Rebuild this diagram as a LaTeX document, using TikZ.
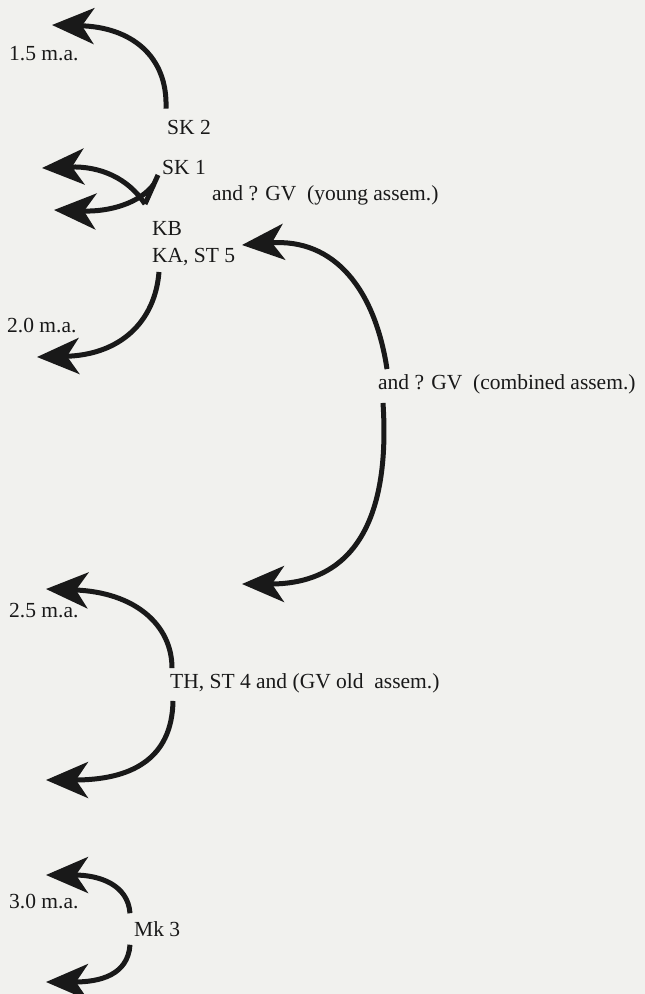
\documentclass[tikz,border=0pt]{standalone}
\usepackage{fontspec}
\setmainfont{Liberation Serif}
\usetikzlibrary{arrows.meta}

\definecolor{paper}{RGB}{241,241,238}
\definecolor{ink}{RGB}{25,25,25}

\tikzset{
  lbl/.style={font=\fontsize{21.5}{24}\selectfont, text=ink, inner sep=0pt},
  arr/.style={draw=ink, line width=5pt,
    -{Stealth[length=42pt,width=36pt,inset=12pt]}}
}

\begin{document}
\begin{tikzpicture}[x=1pt,y=-1pt]
\fill[paper] (0,0) rectangle (645,994);
\useasboundingbox (0,0) rectangle (645,994);

% labels
\node[lbl, anchor=west] (ma15) at (9,54) {1.5 m.a.};
\node[lbl] (sk2) at (189,127) {SK 2};
\node[lbl] (sk1) at (184,167) {SK 1};
\node[lbl, anchor=west] (young) at (212,195) {and ? GV\ \ (young assem.)};
\node[lbl, anchor=west] (kb) at (152,228) {KB};
\node[lbl, anchor=west] (kast) at (152,257) {KA, ST 5};
\node[lbl, anchor=west] (ma20) at (7,325) {2.0 m.a.};
\node[lbl, anchor=west] (comb) at (378,384) {and ? GV\ \ (combined assem.)};
\node[lbl, anchor=west] (ma25) at (9,611) {2.5 m.a.};
\node[lbl, anchor=west] (th) at (170,683) {TH, ST 4 and (GV old\ \ assem.)};
\node[lbl, anchor=west] (ma30) at (9,901) {3.0 m.a.};
\node[lbl, anchor=west] (mk) at (134,929) {Mk 3};

% arrow ends
\coordinate (t15) at (52,25);
\coordinate (xa) at (158,175);
\coordinate (xb) at (145,204);
\coordinate (xm) at (154,184);
\coordinate (tup) at (42,168);
\coordinate (tlo) at (54,210);
\coordinate (t20) at (37,357);
\coordinate (tcu) at (242,245);
\coordinate (tcl) at (242,584);
\coordinate (t25) at (46,589);
\coordinate (tth) at (46,780);
\coordinate (t30) at (46,875);
\coordinate (t35) at (46,982);

\draw[arr] (sk2.north west) ++(-1,-11) .. controls (168,55) and (130,27) .. (t15);

\draw[draw=ink, line width=5pt] (xa) -- (xb);
\draw[arr] (xb) .. controls (128,178) and (100,166) .. (tup);
\draw[arr] (xm) .. controls (140,203) and (110,212) .. (tlo);

\draw[arr] (kast.south west) ++(7,6) .. controls (155,322) and (120,355) .. (t20);

\draw[arr] (comb.north west) ++(9,-5) .. controls (375,290) and (335,238) .. (tcu);
\draw[arr] (comb.south west) ++(5,9) .. controls (390,510) and (360,584) .. (tcl);

\draw[arr] (th.north west) ++(2,-5) .. controls (172,625) and (135,592) .. (t25);
\draw[arr] (th.south west) ++(3,8) .. controls (172,760) and (130,780) .. (tth);

\draw[arr] (mk.north west) ++(-4,-8) .. controls (128,885) and (100,875) .. (t30);
\draw[arr] (mk.south west) ++(-4,8) .. controls (128,975) and (100,982) .. (t35);
\end{tikzpicture}
\end{document}
